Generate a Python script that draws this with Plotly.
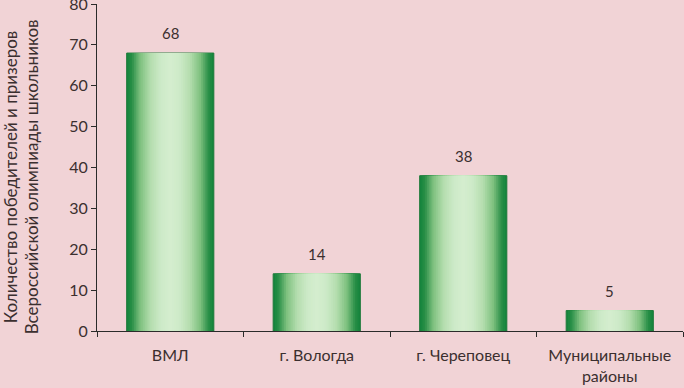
import plotly.graph_objects as go

categories = ["ВМЛ", "г. Вологда", "г. Череповец", "Муниципальные<br>районы"]
values = [68, 14, 38, 5]
y_ticks = [0, 10, 20, 30, 40, 50, 60, 70, 80]
y_title_lines = ["Количество победителей и призеров", "Всероссийской олимпиады школьников"]

BG = "#F1D3D6"
TXT = "#3b2f2f"

def lerp(c1, c2, t):
    return "rgb(%d,%d,%d)" % tuple(round(a + (b - a) * t) for a, b in zip(c1, c2))

# gradient stops from edge (0) to centre (1)
stops = [(0.0, (22, 134, 62)), (0.1, (40, 142, 70)), (0.3, (125, 192, 126)),
         (0.55, (180, 221, 174)), (0.8, (205, 234, 200)), (1.0, (212, 237, 206))]

def color_at(t):
    for (t0, c0), (t1, c1) in zip(stops, stops[1:]):
        if t <= t1:
            return lerp(c0, c1, (t - t0) / (t1 - t0))
    return lerp(stops[-1][1], stops[-1][1], 0)

fig = go.Figure()
W = 0.595
N = 24
for i in range(N):
    t = i / (N - 1)
    w = W * (1 - i / N)
    first = i == 0
    fig.add_trace(go.Bar(
        x=categories, y=values, width=[w] * len(values),
        marker=dict(color=color_at(t),
                    line=dict(color="#1f7a3a" if first else color_at(t), width=1 if first else 0)),
        hoverinfo="skip", showlegend=False,
    ))

for c, v in zip(categories, values):
    fig.add_annotation(x=c, y=v, text=str(v), showarrow=False, yanchor="bottom",
                       yshift=9, font=dict(size=15, color=TXT, family="Lato"))

fig.update_layout(
    width=684, height=388, barmode="overlay",
    paper_bgcolor=BG, plot_bgcolor=BG,
    margin=dict(l=97, r=1, t=4, b=57, autoexpand=False),
    font=dict(family="Lato", size=16, color=TXT),
    xaxis=dict(showline=True, linecolor="#2b2b2b", linewidth=1, automargin=False,
               ticks="outside", ticklen=5, tickcolor="#2b2b2b",
               tickson="boundaries", showgrid=False, ticklabelstandoff=10,
               tickfont=dict(size=16, color=TXT)),
    yaxis=dict(range=[0, 80], tickvals=y_ticks, showline=True, linecolor="#2b2b2b",
               linewidth=1, ticks="outside", ticklen=5, tickcolor="#2b2b2b",
               automargin=False, ticklabeloverflow="allow",
               showgrid=False, zeroline=False, tickfont=dict(size=16, color=TXT)),
)

for k, (line, px) in enumerate(zip(y_title_lines, [10, 31])):
    fig.add_annotation(text=line, textangle=-90, showarrow=False,
                       xref="paper", yref="paper", x=0, y=0.47,
                       xshift=px - 97, xanchor="center", yanchor="middle",
                       font=dict(size=17, color=TXT, family="Lato"))

fig.write_html("out.html", config={"displayModeBar": False},
               post_script="document.body.style.margin='0';document.body.style.overflow='hidden';")
